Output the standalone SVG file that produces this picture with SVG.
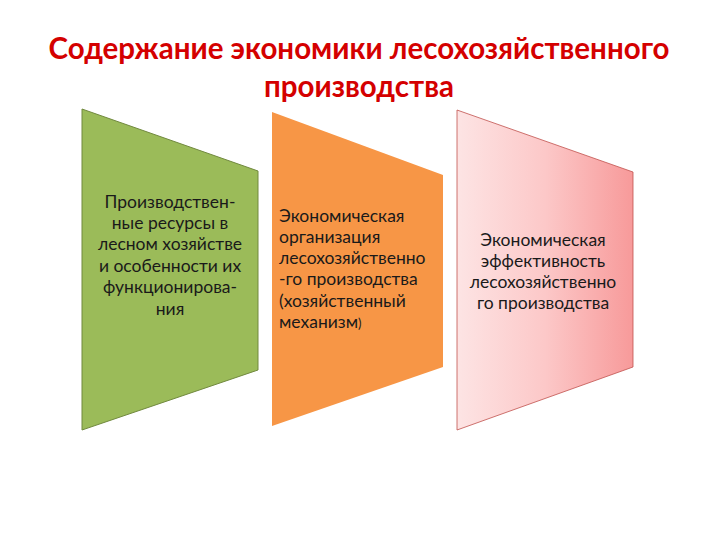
<svg xmlns="http://www.w3.org/2000/svg" width="720" height="540" viewBox="0 0 720 540">
<defs>
<linearGradient id="pinkGrad" x1="0" y1="0" x2="1" y2="0">
<stop offset="0" stop-color="#fde4e4"/>
<stop offset="0.5" stop-color="#fcc8c8"/>
<stop offset="1" stop-color="#f79a9a"/>
</linearGradient>
</defs>
<style>
.title{font-family:Lato,"Open Sans",sans-serif;font-weight:bold;font-size:29.5px;fill:#d40000;text-anchor:middle}
.lbl{font-family:Lato,"Open Sans",sans-serif;font-size:17.5px;fill:#1a1a1a}
.c{text-anchor:middle}
</style>
<rect width="720" height="540" fill="#ffffff"/>
<g id="title">
<text class="title" x="359" y="59">Содержание экономики лесохозяйственного</text>
<text class="title" x="359" y="97">производства</text>
</g>
<g id="node1">
<polygon points="82,109 258,171 258,370 82,430" fill="#9bbb59" stroke="#71893f" stroke-width="1"/>
<text class="lbl c" x="170" y="208">Производствен-</text>
<text class="lbl c" x="170" y="229">ные ресурсы в</text>
<text class="lbl c" x="170" y="250">лесном хозяйстве</text>
<text class="lbl c" x="170" y="272">и особенности их</text>
<text class="lbl c" x="170" y="293">функционирова-</text>
<text class="lbl c" x="170" y="315">ния</text>
</g>
<g id="node2">
<polygon points="272,112 443,175 443,367 272,426" fill="#f79646"/>
<text class="lbl" x="279" y="222">Экономическая</text>
<text class="lbl" x="279" y="243">организация</text>
<text class="lbl" x="279" y="264">лесохозяйственно</text>
<text class="lbl" x="279" y="285">-го производства</text>
<text class="lbl" x="279" y="307">(хозяйственный</text>
<text class="lbl" x="279" y="328">механизм<tspan font-size="13">)</tspan></text>
</g>
<g id="node3">
<polygon points="457,110 633,172 633,367 457,430" fill="url(#pinkGrad)" stroke="#c0504d" stroke-width="0.8"/>
<text class="lbl c" x="543" y="246">Экономическая</text>
<text class="lbl c" x="543" y="267">эффективность</text>
<text class="lbl c" x="543" y="288">лесохозяйственно</text>
<text class="lbl c" x="543" y="309">го производства</text>
</g>
<g id="connectors"/>
</svg>
